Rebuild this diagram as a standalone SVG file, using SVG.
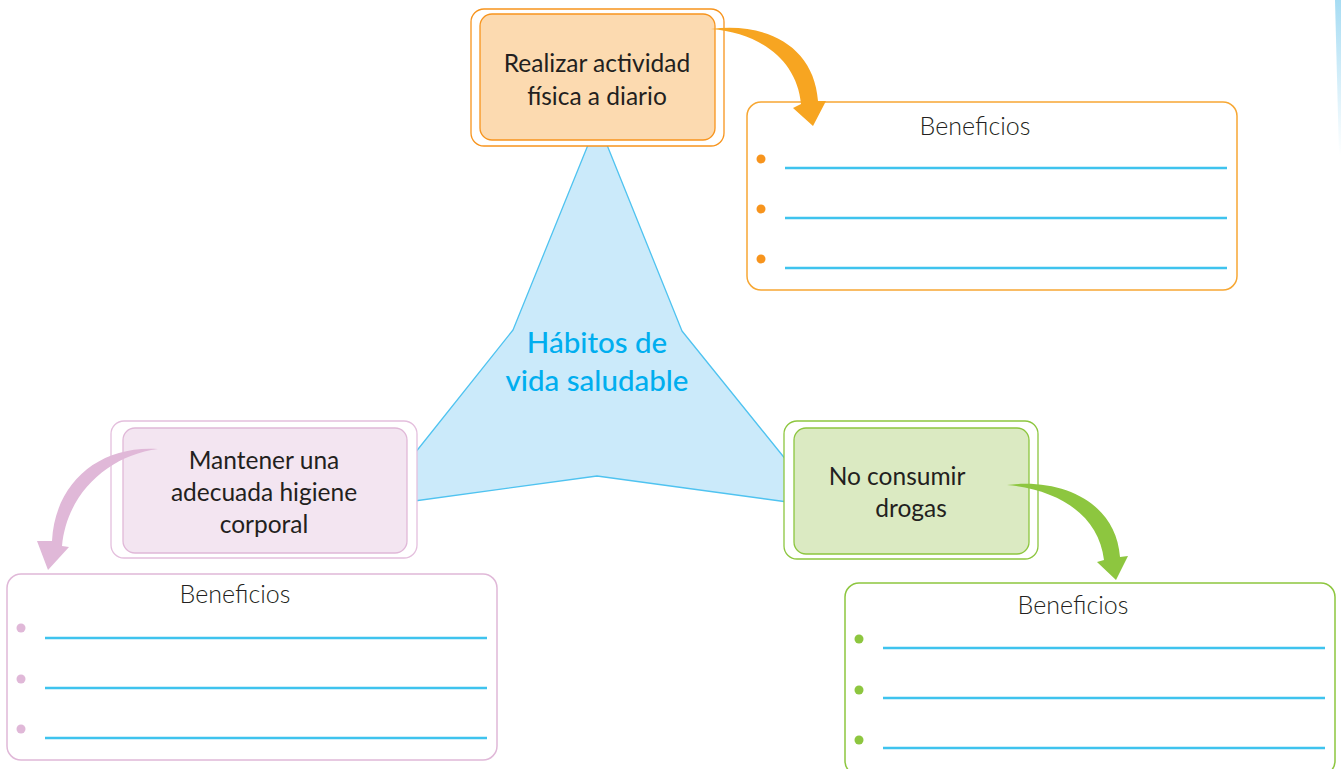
<svg xmlns="http://www.w3.org/2000/svg" width="1341" height="769" viewBox="0 0 1341 769">
<defs>
<style>
.t{font-family:Lato,"Open Sans","Liberation Sans",sans-serif;font-size:24.5px;fill:#231f20;text-anchor:middle}
.b{font-family:Lato,"Open Sans","Liberation Sans",sans-serif;font-size:25px;fill:#231f20;text-anchor:middle;font-weight:300}
.ln{stroke:#3fc3ee;stroke-width:2.5}
.c{font-family:Lato,"Open Sans","Liberation Sans",sans-serif;font-size:29.5px;fill:#00aeef;text-anchor:middle;font-weight:500}
</style>
<linearGradient id="edge" x1="0" y1="0" x2="0" y2="1">
<stop offset="0" stop-color="#a6dcf3"/>
<stop offset="1" stop-color="#a6dcf3" stop-opacity="0"/>
</linearGradient>
</defs>
<rect width="1341" height="769" fill="#ffffff"/>
<polygon points="1335,0 1341,0 1341,155 1339,155" fill="url(#edge)"/>

<g id="center">
<polygon points="590,140 513,330 407,463 407,502 597,476 795,503 795,471 682,331 605,140" fill="#cbeafa" stroke="#4fc3f0" stroke-width="1.3" stroke-linejoin="round"/>
<text class="c" x="597" y="353">Hábitos de</text>
<text class="c" x="597" y="391">vida saludable</text>
</g>

<g id="node-actividad">
<rect x="471" y="9" width="253" height="137" rx="13" fill="#ffffff" stroke="#f7941d" stroke-width="1.3"/>
<rect x="480" y="14" width="235" height="126" rx="12" fill="#fcdab0" stroke="#f7941d" stroke-width="1.3"/>
<text class="t" x="597" y="72">Realizar actividad</text>
<text class="t" x="597" y="105">física a diario</text>
</g>

<g id="node-higiene">
<rect x="111" y="421" width="306" height="137" rx="13" fill="#ffffff" stroke="#e4bfdd" stroke-width="1.3"/>
<rect x="123" y="428" width="284" height="125" rx="12" fill="#f3e5f1" stroke="#e0b8d8" stroke-width="1.3"/>
<text class="t" x="264" y="469">Mantener una</text>
<text class="t" x="264" y="501">adecuada higiene</text>
<text class="t" x="264" y="533">corporal</text>
</g>

<g id="node-drogas">
<rect x="784" y="421" width="254" height="138" rx="13" fill="#ffffff" stroke="#8dc63f" stroke-width="1.3"/>
<rect x="794" y="428" width="235" height="126" rx="12" fill="#dbeac2" stroke="#8dc63f" stroke-width="1.3"/>
<text class="t" x="897" y="485">No consumir</text>
<text class="t" x="911" y="517">drogas</text>
</g>

<g id="benef-orange">
<rect x="747" y="102" width="490" height="188" rx="14" fill="#ffffff" stroke="#f7a733" stroke-width="1.5"/>
<text class="b" x="975" y="135">Beneficios</text>
<circle cx="761" cy="159" r="4.5" fill="#f7941d"/>
<circle cx="761" cy="209" r="4.5" fill="#f7941d"/>
<circle cx="761" cy="259" r="4.5" fill="#f7941d"/>
<line class="ln" x1="785" y1="168" x2="1227" y2="168"/>
<line class="ln" x1="785" y1="218" x2="1227" y2="218"/>
<line class="ln" x1="785" y1="268" x2="1227" y2="268"/>
</g>

<g id="benef-pink">
<rect x="7" y="574" width="490" height="186" rx="14" fill="#ffffff" stroke="#e0b8d8" stroke-width="1.5"/>
<text class="b" x="235" y="603">Beneficios</text>
<circle cx="21" cy="628" r="4.5" fill="#e0b8d8"/>
<circle cx="21" cy="679" r="4.5" fill="#e0b8d8"/>
<circle cx="21" cy="729" r="4.5" fill="#e0b8d8"/>
<line class="ln" x1="45" y1="638" x2="487" y2="638"/>
<line class="ln" x1="45" y1="688" x2="487" y2="688"/>
<line class="ln" x1="45" y1="738" x2="487" y2="738"/>
</g>

<g id="benef-green">
<rect x="845" y="583" width="490" height="192" rx="14" fill="#ffffff" stroke="#8dc63f" stroke-width="1.5"/>
<text class="b" x="1073" y="614">Beneficios</text>
<circle cx="859" cy="639" r="4.5" fill="#8dc63f"/>
<circle cx="859" cy="690" r="4.5" fill="#8dc63f"/>
<circle cx="859" cy="740" r="4.5" fill="#8dc63f"/>
<line class="ln" x1="883" y1="648" x2="1325" y2="648"/>
<line class="ln" x1="883" y1="698" x2="1325" y2="698"/>
<line class="ln" x1="883" y1="748" x2="1325" y2="748"/>
</g>

<g id="connectors">
<path d="M711,29 C765,22 814,45 818,101 L826,101 L813,126 L793,108 L801,104 C797,60 760,33 711,29 Z" fill="#f7a521"/>
<path d="M1007,485 C1062,478 1116,502 1120,557 L1128,556 L1116,580 L1097,562 L1104,560 C1099,516 1060,490 1007,485 Z" fill="#8dc63f"/>
<path d="M158,449 C100,445 55,482 52,541 L37,541 L48,570 L69,547 L62,546 C67,492 110,455 158,449 Z" fill="#e0b8d8"/>
</g>
</svg>
